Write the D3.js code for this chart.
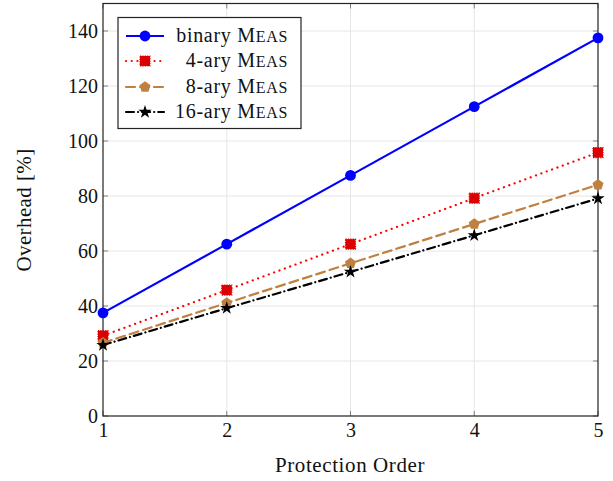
<!DOCTYPE html>
<html>
<head>
<meta charset="utf-8">
<script src="https://cdn.jsdelivr.net/npm/d3@7"></script>
<style>
  body { margin: 0; background: #fff; }
  svg { font-family: "Liberation Serif", "DejaVu Serif", serif; }
</style>
</head>
<body>
<svg id="chart" width="613" height="481"></svg>
<script>
// Data
const orders = [1, 2, 3, 4, 5];
const binaryMeas = [37.5, 62.5, 87.5, 112.5, 137.5];
const ary4Meas = [29.2, 45.8, 62.5, 79.2, 95.8];
const ary8Meas = [26.6, 41.1, 55.5, 69.8, 84.1];
const ary16Meas = [25.8, 39.2, 52.4, 65.7, 79.1];
const seriesNames = ["binary", "4-ary", "8-ary", "16-ary"];
const yTicks = [0, 20, 40, 60, 80, 100, 120, 140];

const series = [
  {name: seriesNames[0], values: binaryMeas, color: "#0000ff", dash: null, marker: "circle"},
  {name: seriesNames[1], values: ary4Meas, color: "#ff0000", dash: "0.1 5.6", marker: "square", markColor: "#dd0000"},
  {name: seriesNames[2], values: ary8Meas, color: "#bf8040", dash: "9 5", marker: "pentagon"},
  {name: seriesNames[3], values: ary16Meas, color: "#000000", dash: "8 4 0.1 4", marker: "star"}
];

const margin = {top: 3.5, right: 15, bottom: 65, left: 103},
    width = 613 - margin.left - margin.right,
    height = 481 - margin.top - margin.bottom;

const svg = d3.select("#chart");
const g = svg.append("g")
    .attr("transform", `translate(${margin.left},${margin.top})`);

const x = d3.scaleLinear().domain([1, 5]).range([0, width]);
const y = d3.scaleLinear().domain([0, 150]).range([height, 0]);

// Grid
g.append("g").selectAll("line")
  .data(orders.slice(1, -1))
  .join("line")
    .attr("x1", d => x(d)).attr("x2", d => x(d))
    .attr("y1", 0).attr("y2", height)
    .attr("stroke", "#e6e6e6").attr("stroke-width", 1);
g.append("g").selectAll("line")
  .data(yTicks.slice(1))
  .join("line")
    .attr("x1", 0).attr("x2", width)
    .attr("y1", d => y(d)).attr("y2", d => y(d))
    .attr("stroke", "#e6e6e6").attr("stroke-width", 1);

// Inward ticks on all sides
const tickLen = 5;
const tk = g.append("g").attr("stroke", "#808080").attr("stroke-width", 1);
yTicks.forEach(v => {
  tk.append("line").attr("x1", 0).attr("x2", tickLen).attr("y1", y(v)).attr("y2", y(v));
  tk.append("line").attr("x1", width - tickLen).attr("x2", width).attr("y1", y(v)).attr("y2", y(v));
});
orders.forEach(v => {
  tk.append("line").attr("x1", x(v)).attr("x2", x(v)).attr("y1", height).attr("y2", height - tickLen);
  tk.append("line").attr("x1", x(v)).attr("x2", x(v)).attr("y1", 0).attr("y2", tickLen);
});

// Tick labels via d3 axes (no domain/ticks drawn)
const xAxis = g.append("g")
    .attr("transform", `translate(0,${height})`)
    .call(d3.axisBottom(x).tickValues(orders).tickFormat(d3.format("d")).tickSize(0).tickPadding(5));
const yAxis = g.append("g")
    .call(d3.axisLeft(y).tickValues(yTicks).tickSize(0).tickPadding(5));
[xAxis, yAxis].forEach(a => {
  a.select(".domain").remove();
  a.selectAll("text")
    .attr("font-family", "Liberation Serif, DejaVu Serif, serif")
    .attr("font-size", 20)
    .attr("fill", "#111");
});
xAxis.selectAll("text").attr("dy", "0.8em");

// Frame
g.append("rect")
  .attr("width", width).attr("height", height)
  .attr("fill", "none").attr("stroke", "#222").attr("stroke-width", 1.2);

// Axis titles
svg.append("text")
  .attr("x", 350)
  .attr("y", 472)
  .attr("text-anchor", "middle")
  .attr("font-size", 21)
  .attr("letter-spacing", 0.6)
  .attr("fill", "#111")
  .text("Protection Order");
svg.append("text")
  .attr("transform", "translate(31,210) rotate(-90)")
  .attr("text-anchor", "middle")
  .attr("font-size", 21)
  .attr("letter-spacing", 0.4)
  .attr("fill", "#111")
  .text("Overhead [%]");

// Markers
function drawMarker(sel, type, color, cx, cy) {
  if (type === "circle") {
    sel.append("circle").attr("cx", cx).attr("cy", cy).attr("r", 5.4).attr("fill", color);
  } else if (type === "square") {
    sel.append("rect").attr("x", cx - 5).attr("y", cy - 5).attr("width", 10).attr("height", 10)
      .attr("fill", color).attr("stroke", color).attr("stroke-width", 1.2).attr("stroke-dasharray", "1.2 1.2");
  } else if (type === "pentagon") {
    const r = 5.8;
    const pts = d3.range(5).map(i => {
      const a = -Math.PI / 2 + i * 2 * Math.PI / 5;
      return [cx + r * Math.cos(a), cy + r * Math.sin(a)];
    });
    sel.append("path").attr("d", "M" + pts.join("L") + "Z").attr("fill", color);
  } else if (type === "star") {
    sel.append("path")
      .attr("d", d3.symbol().type(d3.symbolStar).size(55)())
      .attr("transform", `translate(${cx},${cy})`)
      .attr("fill", color);
  }
}

const line = d3.line().x((d, i) => x(orders[i])).y(d => y(d));

series.forEach(s => {
  g.append("path")
    .datum(s.values)
    .attr("d", line)
    .attr("fill", "none")
    .attr("stroke", s.color)
    .attr("stroke-width", 2.2)
    .attr("stroke-linecap", s.dash ? "round" : "butt")
    .attr("stroke-dasharray", s.dash);
  const mg = g.append("g");
  s.values.forEach((v, i) => drawMarker(mg, s.marker, s.markColor || s.color, x(orders[i]), y(v)));
});

// Legend
const lg = svg.append("g");
lg.append("rect")
  .attr("x", 118).attr("y", 17.5).attr("width", 183).attr("height", 111)
  .attr("fill", "#fff").attr("stroke", "#222").attr("stroke-width", 1.2);
const rowY = [36, 61, 87, 112];
series.forEach((s, i) => {
  const ly = rowY[i];
  lg.append("line")
    .attr("x1", 126).attr("x2", 164).attr("y1", ly).attr("y2", ly)
    .attr("stroke", s.color).attr("stroke-width", 2.2)
    .attr("stroke-linecap", s.dash ? "round" : "butt")
    .attr("stroke-dasharray", s.dash);
  drawMarker(lg, s.marker, s.markColor || s.color, 145, ly);
  const t = lg.append("text")
    .attr("x", 288).attr("y", ly + 6)
    .attr("text-anchor", "end")
    .attr("font-size", 20)
    .attr("letter-spacing", 0.7)
    .attr("fill", "#111");
  t.append("tspan").text(s.name + " M");
  t.append("tspan").attr("font-size", 16).text("EAS");
});
</script>
</body>
</html>
